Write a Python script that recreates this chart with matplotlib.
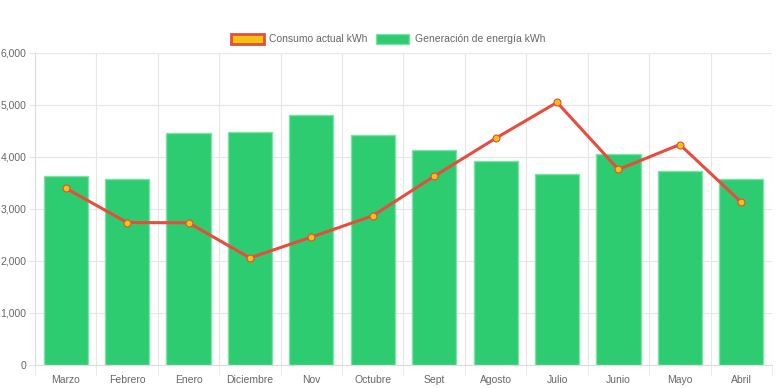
import matplotlib
matplotlib.use('Agg')
import matplotlib.pyplot as plt
from matplotlib.patches import Patch
from matplotlib.ticker import FuncFormatter, MultipleLocator
import numpy as np

plt.rcParams['font.family'] = ['Liberation Sans', 'DejaVu Sans']

meses = ['Marzo', 'Febrero', 'Enero', 'Diciembre', 'Nov', 'Octubre',
         'Sept', 'Agosto', 'Julio', 'Junio', 'Mayo', 'Abril']
generacion = [3630, 3580, 4455, 4490, 4810, 4420, 4130, 3920, 3670, 4060, 3740, 3580]
consumo = [3400, 2740, 2735, 2060, 2460, 2870, 3630, 4360, 5050, 3760, 4240, 3130]

GREEN = '#2ecc71'
RED = '#e74c3c'
YELLOW = '#f1c40f'
GRID = '#e6e6e6'
TXT = '#666666'

fig = plt.figure(figsize=(7.76, 3.88), dpi=100)
ax = fig.add_axes([35 / 776, 23 / 388, 737 / 776, 312 / 388])

x = np.arange(len(meses))
ax.bar(x, generacion, width=0.72, color=GREEN, edgecolor='#7ee0a6', linewidth=1, zorder=2)
ax.plot(x, consumo, color=RED, linewidth=2.2, marker='o', markersize=5,
        markerfacecolor=YELLOW, markeredgecolor=RED, markeredgewidth=0.8, zorder=3)

ax.set_xlim(-0.5, len(meses) - 0.5)
ax.set_ylim(0, 6000)
ax.yaxis.set_major_locator(MultipleLocator(1000))
ax.yaxis.set_major_formatter(FuncFormatter(lambda v, p: f'{int(v):,}'))

ax.set_xticks(x)
ax.set_xticklabels(meses)
ax.set_xticks(np.arange(-0.5, len(meses)), minor=True)
ax.tick_params(axis='x', which='major', length=0, pad=7, labelsize=7.5, labelcolor=TXT)
ax.tick_params(axis='x', which='minor', length=7, color=GRID)
ax.tick_params(axis='y', length=4, color=GRID, pad=2, labelsize=7.5, labelcolor=TXT)

ax.grid(True, which='minor', axis='x', color=GRID, linewidth=0.8, zorder=0)
ax.grid(True, which='major', axis='y', color=GRID, linewidth=0.8, zorder=0)
ax.set_axisbelow(True)
for side in ['top', 'right']:
    ax.spines[side].set_visible(False)
for side in ['left', 'bottom']:
    ax.spines[side].set_color('#dddddd')

handles = [Patch(facecolor=YELLOW, edgecolor=RED, linewidth=2, label='Consumo actual kWh'),
           Patch(facecolor=GREEN, edgecolor='#7ee0a6', linewidth=1, label='Generación de energía kWh')]
fig.legend(handles=handles, loc='center', bbox_to_anchor=(0.5, 1 - 39 / 388), ncol=2,
           frameon=False, fontsize=7.5, handlelength=3.2, handleheight=1.1,
           handletextpad=0.5, columnspacing=0.8, labelcolor=TXT)

fig.savefig('out.png', dpi=100)
